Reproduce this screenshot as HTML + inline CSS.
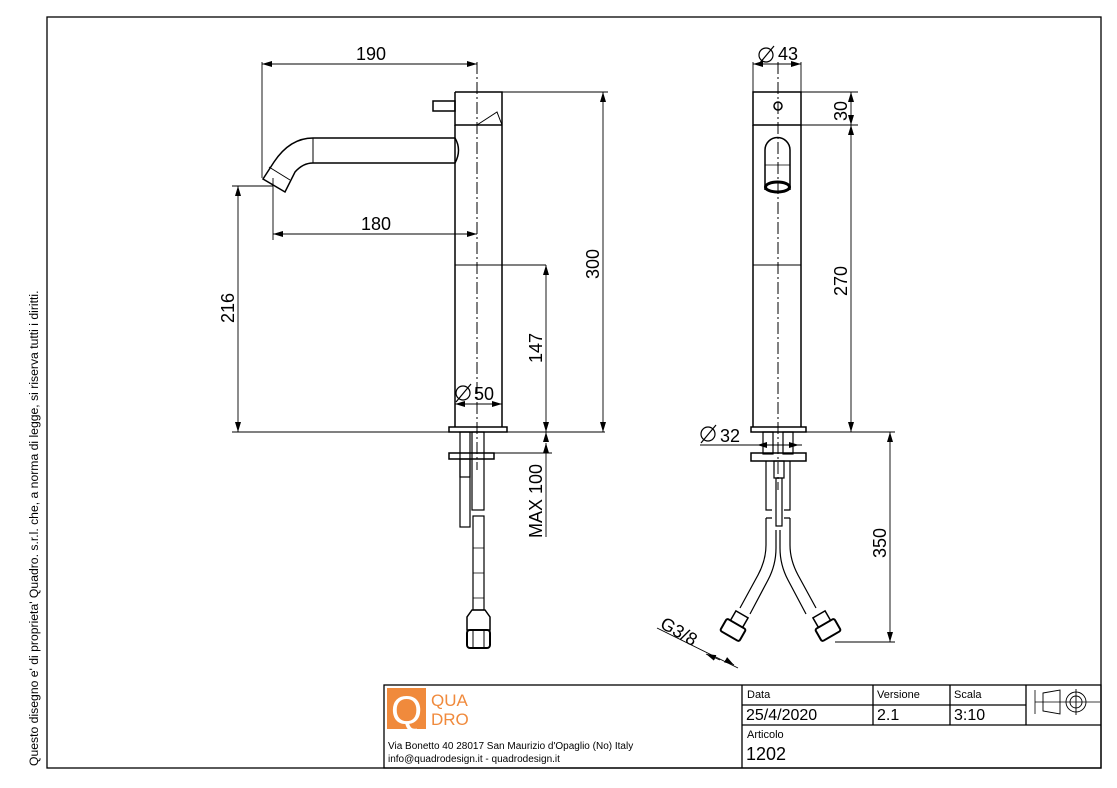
<!DOCTYPE html>
<html><head><meta charset="utf-8"><style>
html,body{margin:0;padding:0;background:#fff}
svg{display:block}
text{font-family:"Liberation Sans",sans-serif;fill:#000}
</style></head><body>
<svg width="1117" height="788" viewBox="0 0 1117 788" xmlns="http://www.w3.org/2000/svg">
<defs>
<marker id="a" markerWidth="10" markerHeight="6" refX="10" refY="3" orient="auto-start-reverse" markerUnits="userSpaceOnUse"><path d="M0,0 L10,3 L0,6 z" fill="#000"/></marker>
</defs>
<rect x="47" y="17" width="1054" height="751" fill="none" stroke="#000" stroke-width="1.3"/>
<text transform="translate(38,766) rotate(-90)" font-size="12.2">Questo disegno e' di proprieta' Quadro. s.r.l. che, a norma di legge, si riserva tutti i diritti.</text>

<g fill="none" stroke="#000" stroke-width="1.5">
<!-- LEFT VIEW -->
<path d="M455,92 H502 V125 M455,92 V125 H502"/>
<path d="M477,125 L497,112 L502,125" stroke-width="1"/>
<rect x="433" y="101" width="22" height="10"/>
<path d="M455,125 V427 M502,125 V427"/>
<path d="M455,265 H502" stroke-width="1"/>
<rect x="449" y="427" width="58" height="5"/>
<path d="M455,138 H313 Q290,138 274,162 L263,179 L285,192 L295,172 Q303,163 313,163 H455"/>
<path d="M455,138 Q462,150 455,163"/>
<path d="M313,138 V163" stroke-width="1"/>
<path d="M269,167 L290,180" stroke-width="1"/>
<rect x="460" y="432" width="10" height="95" stroke-width="1.2"/>
<rect x="472" y="432" width="12" height="78" stroke-width="1.2"/>
<rect x="449" y="453" width="45" height="6"/>
<rect x="460" y="459" width="10" height="18" stroke-width="1.2"/>
<rect x="473" y="516" width="11" height="94" stroke-width="1.2"/>
<path d="M473,548 H484 M473,573 H484 M473,598 H484" stroke-width="0.8"/>
<path d="M472,610 H485 L490,617 V630 H467 V617 Z" stroke-width="1.5"/>
<rect x="467" y="630" width="23" height="18" rx="3" stroke-width="2"/>
<path d="M473,630 V648 M484,630 V648" stroke-width="1"/>

<!-- RIGHT VIEW -->
<rect x="753" y="92" width="48" height="33"/>
<circle cx="778" cy="106" r="4"/>
<path d="M753,125 V427 M801,125 V427"/>
<path d="M753,265 H801" stroke-width="1"/>
<path d="M765,190 V150 A12.5,12.5 0 0 1 790,150 V190"/>
<path d="M765,165 H790" stroke-width="0.8"/>
<ellipse cx="777.5" cy="187" rx="12" ry="5" stroke-width="3"/>
<rect x="751" y="427" width="55" height="5"/>
<rect x="763" y="432" width="10" height="22" stroke-width="1.2"/>
<rect x="783" y="432" width="10" height="22" stroke-width="1.2"/>
<rect x="751" y="453" width="55" height="8"/>
<path d="M766,461 V510 H772 M790,461 V510 H784" stroke-width="1.2"/>
<rect x="774" y="461" width="10" height="17" stroke-width="1.2"/>
<rect x="776" y="478" width="6" height="48" stroke-width="1.2"/>
<path d="M766,518 V545 Q766,560 758,575 L740,608 M790,518 V545 Q790,560 798,575 L816,608" stroke-width="1.2"/>
<path d="M772,518 H766 M784,518 H790" stroke-width="1.2"/>
<path d="M776,530 V548 Q776,565 768,580 L750,614 M780,530 V548 Q780,565 788,580 L806,614" stroke-width="1.2"/>
<g transform="translate(733,630) rotate(30)"><rect x="-11" y="-7" width="22" height="14" rx="2" stroke-width="2"/><rect x="-7" y="-18" width="14" height="11"/></g>
<g transform="translate(828,630) rotate(-30)"><rect x="-11" y="-7" width="22" height="14" rx="2" stroke-width="2"/><rect x="-7" y="-18" width="14" height="11"/></g>
</g>

<g stroke="#000" stroke-width="1" stroke-dasharray="12,3,2,3" fill="none">
<path d="M477,62 V470"/>
<path d="M778,62 V490"/>
</g>

<g stroke="#000" stroke-width="0.9" fill="none">
<path d="M262,62 V178 M273,178 V240"/>
<path d="M262,64 H477" marker-start="url(#a)" marker-end="url(#a)"/>
<path d="M273,234 H477" marker-start="url(#a)" marker-end="url(#a)"/>
<path d="M232,186 H273 M232,432 H605 M502,92 H608 M494,453 H552"/>
<path d="M238,186 V432" marker-start="url(#a)" marker-end="url(#a)"/>
<path d="M603,92 V432" marker-start="url(#a)" marker-end="url(#a)"/>
<path d="M546,265 V432" marker-start="url(#a)" marker-end="url(#a)"/>
<path d="M546,265 H502"/>
<path d="M546,442 V432" marker-end="url(#a)"/>
<path d="M546,443 V453" marker-start="url(#a)"/>
<path d="M546,453 V537"/>
<path d="M455,400 V412 M502,400 V412"/>
<path d="M455,404 H502" marker-start="url(#a)" marker-end="url(#a)"/>
<path d="M753,62 V92 M801,62 V92"/>
<path d="M753,64 H801" marker-start="url(#a)" marker-end="url(#a)"/>
<path d="M801,92 H858 M801,125 H858 M806,432 H895"/>
<path d="M851,92 V125" marker-start="url(#a)" marker-end="url(#a)"/>
<path d="M851,125 V432" marker-start="url(#a)" marker-end="url(#a)"/>
<path d="M890,432 V642" marker-start="url(#a)" marker-end="url(#a)"/>
<path d="M835,642 H895"/>
<path d="M700,445 H802"/>
<path d="M757,445 H763" marker-start="url(#a)"/>
<path d="M793,445 H799" marker-end="url(#a)"/>
<path d="M657,628 L738,668"/>
<path d="M706,654 L720,660" marker-start="url(#a)"/>
<path d="M726,660 L734,665" marker-end="url(#a)"/>
</g>

<g font-size="18">
<text x="356" y="60">190</text>
<text x="361" y="230">180</text>
<text transform="translate(234,323) rotate(-90)">216</text>
<text transform="translate(599,279) rotate(-90)">300</text>
<text transform="translate(542,363) rotate(-90)">147</text>
<text transform="translate(542,538) rotate(-90)">MAX 100</text>
<text x="474" y="400">50</text>
<text x="778" y="60">43</text>
<text transform="translate(847,121) rotate(-90)">30</text>
<text transform="translate(847,296) rotate(-90)">270</text>
<text transform="translate(886,558) rotate(-90)">350</text>
<text x="720" y="442">32</text>
<text transform="translate(659,627) rotate(30)">G3/8</text>
</g>
<g fill="none" stroke="#000" stroke-width="1.2">
<circle cx="463" cy="393" r="7"/><path d="M456,402 L471,384"/>
<circle cx="766" cy="55" r="7"/><path d="M759,64 L774,46"/>
<circle cx="708" cy="434" r="7"/><path d="M701,443 L716,425"/>
</g>

<g fill="none" stroke="#000" stroke-width="1.3">
<rect x="384" y="685" width="717" height="83"/>
<path d="M742,685 V768 M742,705 H1026 M742,725 H1101 M873,685 V725 M950,685 V725 M1026,685 V725"/>
<path d="M1035,690 V714 M1035,702 H1100" stroke-width="0.8"/>
<path d="M1043,693 L1060,690 V714 L1043,711 Z" stroke-width="0.9"/>
<circle cx="1076" cy="702" r="10" stroke-width="0.9"/>
<circle cx="1076" cy="702" r="6" stroke-width="0.9"/>
<path d="M1076,689 V715" stroke-width="0.9"/>
</g>
<rect x="387" y="688" width="39" height="41" fill="#f08a3c"/>
<text x="391" y="724" font-size="40" style="fill:#fff">Q</text>
<text x="431" y="706" font-size="17" style="fill:#f08a3c">QUA</text>
<text x="431" y="725" font-size="17" style="fill:#f08a3c">DRO</text>
<text x="388" y="749" font-size="10">Via Bonetto 40  28017 San Maurizio d'Opaglio (No) Italy</text>
<text x="388" y="762" font-size="10">info@quadrodesign.it  -  quadrodesign.it</text>
<text x="747" y="698" font-size="11">Data</text>
<text x="877" y="698" font-size="11">Versione</text>
<text x="954" y="698" font-size="11">Scala</text>
<text x="746" y="720" font-size="16">25/4/2020</text>
<text x="877" y="720" font-size="16">2.1</text>
<text x="954" y="720" font-size="16">3:10</text>
<text x="747" y="738" font-size="11">Articolo</text>
<text x="746" y="760" font-size="18">1202</text>
</svg>
</body></html>
